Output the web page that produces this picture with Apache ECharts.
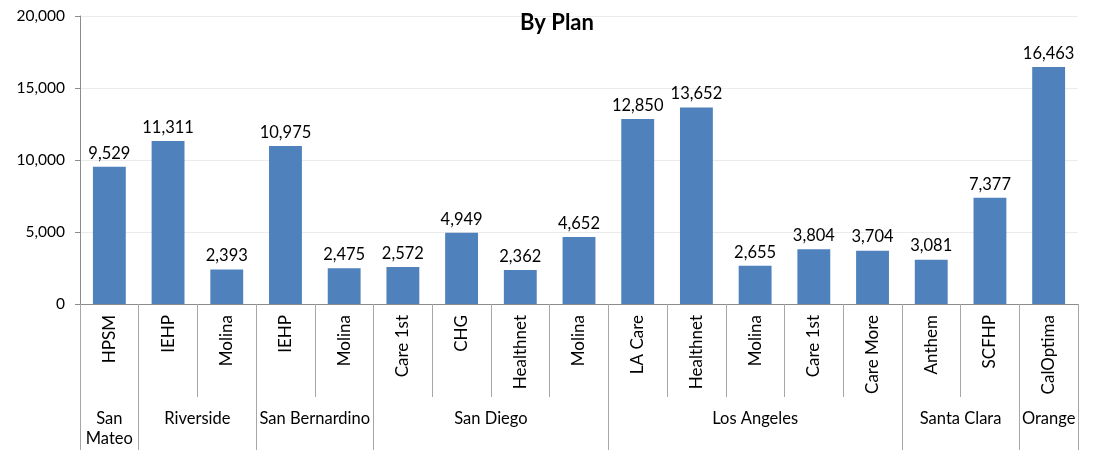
<!DOCTYPE html>
<html>
<head>
<meta charset="utf-8">
<script src="https://cdn.jsdelivr.net/npm/echarts@6/dist/echarts.min.js"></script>
<style>html,body{margin:0;padding:0;background:#fff}#c{width:1093px;height:450px}</style>
</head>
<body>
<div id="c"></div>
<script>
const plans = ['HPSM','IEHP','Molina','IEHP','Molina','Care 1st','CHG','Healthnet','Molina','LA Care','Healthnet','Molina','Care 1st','Care More','Anthem','SCFHP','CalOptima'];
const values = [9529,11311,2393,10975,2475,2572,4949,2362,4652,12850,13652,2655,3804,3704,3081,7377,16463];
const groups = ['San\nMateo','Riverside','San Bernardino','San Diego','Los Angeles','Santa Clara','Orange'];
const groupSizes = [1,2,2,4,5,2,1];
const yTicks = [0,5000,10000,15000,20000];

// build half-slot axis for group labels (boundaryGap false, 2*N+1 points)
const n = plans.length;
const halfData = new Array(2*n+1).fill('');
const boundary = new Set([0]);
let start = 0;
groups.forEach((g,i)=>{
  const end = start + groupSizes[i];
  halfData[start + end] = g;
  boundary.add(2*end);
  start = end;
});

const font = 'Lato, "Noto Sans", sans-serif';
const chart = echarts.init(document.getElementById('c'));
chart.setOption({
  animation:false,
  title:{text:'By Plan',left:552,textAlign:'center',top:7,textStyle:{fontFamily:font,fontSize:22,fontWeight:'bold',color:'#000'}},
  grid:{left:80,right:15,top:16,bottom:146},
  xAxis:[{
    type:'category',data:plans,position:'bottom',
    axisLine:{show:true,lineStyle:{color:'#8c8c8c',width:1}},
    axisTick:{show:true,interval:0,length:93,lineStyle:{color:'#a6a6a6'}},
    axisLabel:{interval:0,rotate:90,margin:11,fontFamily:font,fontSize:17,color:'#000'}
  },{
    type:'category',data:halfData,boundaryGap:false,position:'bottom',offset:0,
    axisLine:{show:false},
    axisTick:{show:true,length:146,interval:(i)=>boundary.has(i),lineStyle:{color:'#a6a6a6'}},
    axisLabel:{interval:0,margin:105,fontFamily:font,fontSize:16.5,lineHeight:20,color:'#000',align:'center'}
  }],
  yAxis:{
    type:'value',min:yTicks[0],max:yTicks[yTicks.length-1],interval:5000,
    axisLine:{show:true,lineStyle:{color:'#8c8c8c'}},
    axisTick:{show:true,length:5,lineStyle:{color:'#8c8c8c'}},
    splitLine:{lineStyle:{color:'#ebebeb'}},
    axisLabel:{margin:15,fontFamily:font,fontSize:15.5,color:'#000',formatter:v=>v.toLocaleString('en-US')}
  },
  series:[{
    type:'bar',data:values,xAxisIndex:0,barWidth:'56%',
    itemStyle:{color:'#4f81bd'},
    label:{show:true,position:'top',distance:5,fontFamily:font,fontSize:16.5,color:'#000',formatter:p=>p.value.toLocaleString('en-US')}
  }]
});
</script>
</body>
</html>
